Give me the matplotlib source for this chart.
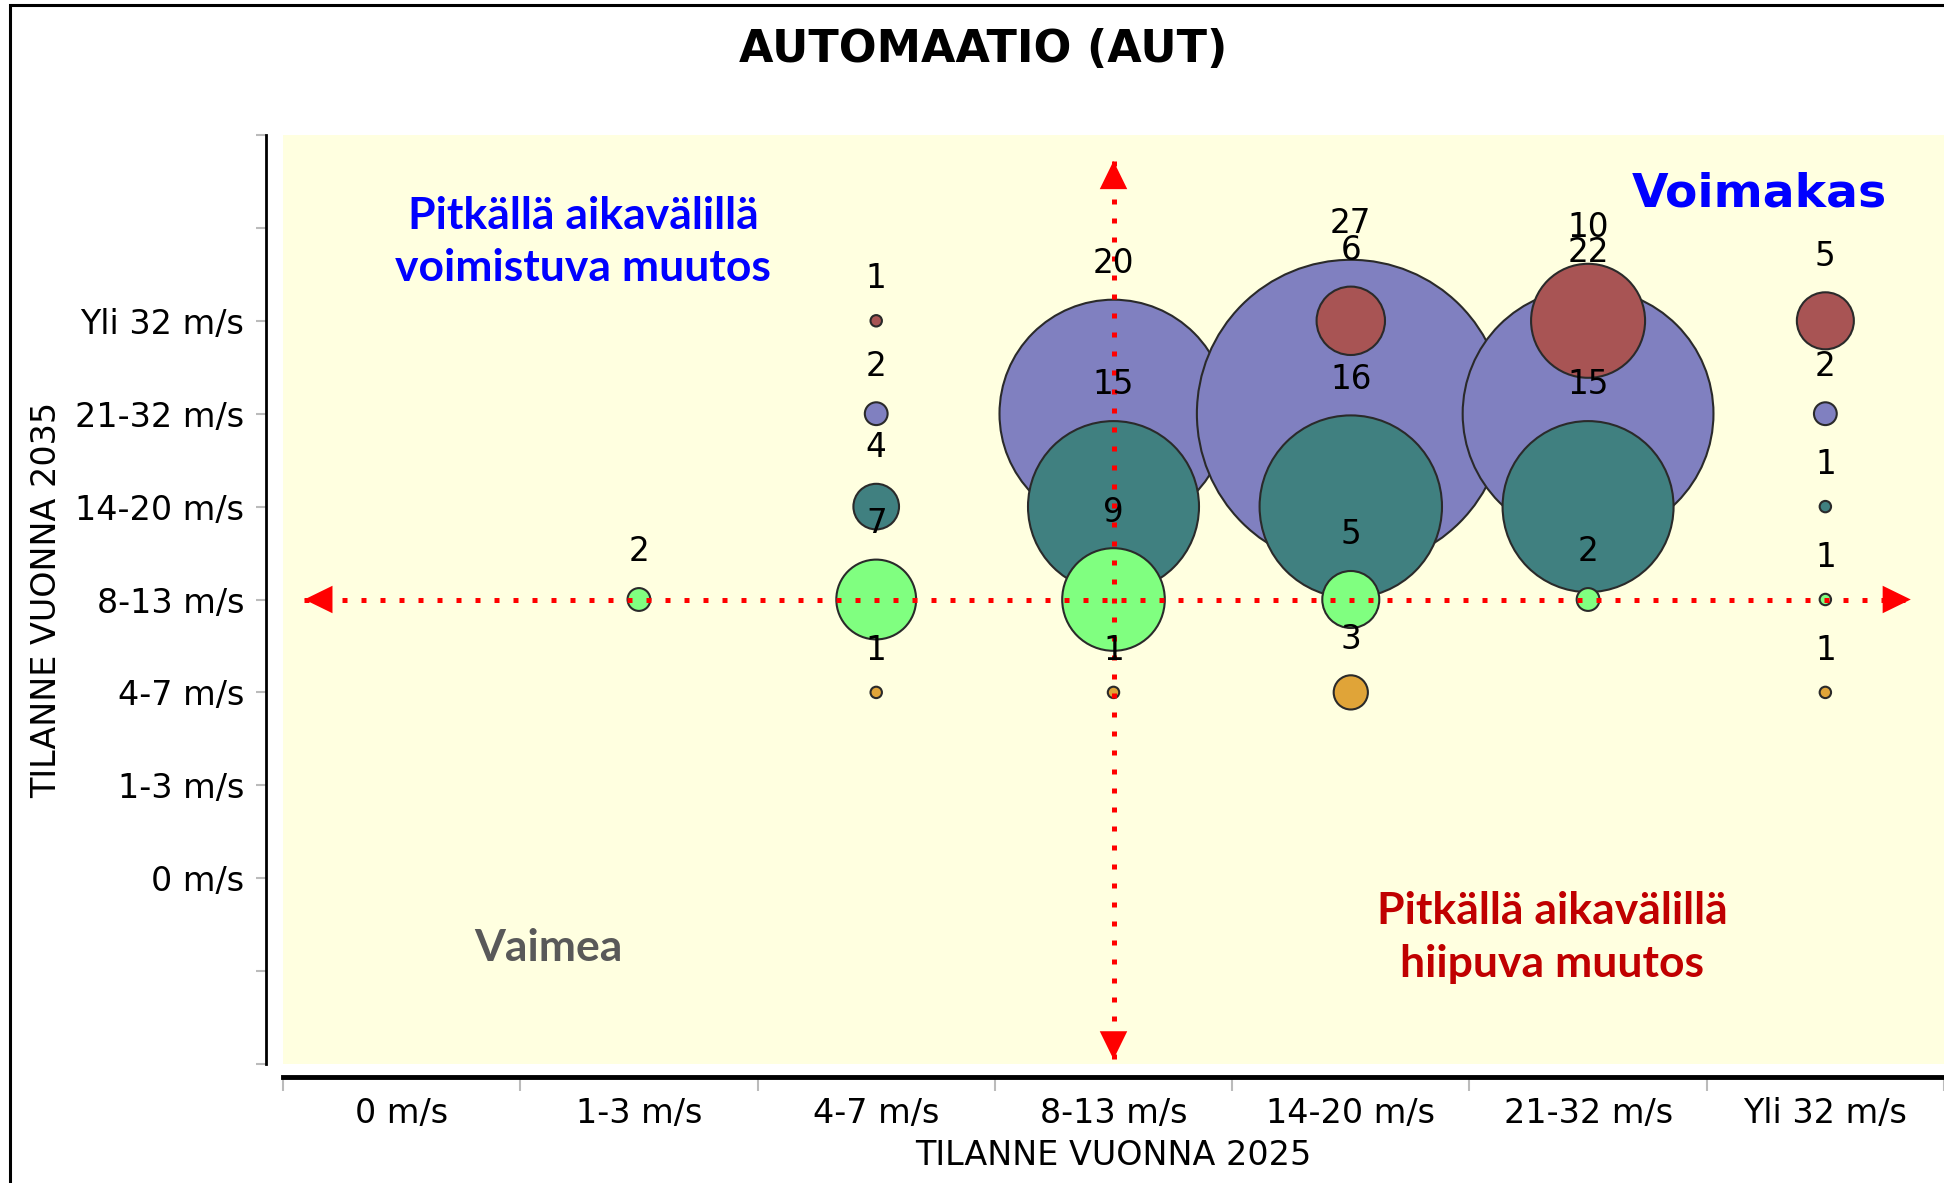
import numpy as np
import matplotlib.pyplot as plt
from matplotlib.patches import Rectangle

# categories (same for both axes)
categories = ["0 m/s", "1-3 m/s", "4-7 m/s", "8-13 m/s", "14-20 m/s", "21-32 m/s", "Yli 32 m/s"]

# counts per 2025 class (x) for each 2035 class (row)
row_yli32 = [0, 0, 1, 0, 6, 10, 5]
row_21_32 = [0, 0, 2, 20, 27, 22, 2]
row_14_20 = [0, 0, 4, 15, 16, 15, 1]
row_8_13 = [0, 2, 7, 9, 5, 2, 1]
row_4_7 = [0, 0, 1, 1, 3, 0, 1]

# draw order: (values, y-category index, colour)
series = [
    (row_21_32, 5, "#8080C0"),
    (row_yli32, 6, "#A85454"),
    (row_14_20, 4, "#408080"),
    (row_8_13, 3, "#80FF80"),
    (row_4_7, 2, "#E0A438"),
]

DPI = 100
W, H = 1944, 1183
fig = plt.figure(figsize=(W / DPI, H / DPI), dpi=DPI)
ax = fig.add_axes([283 / W, 1 - 1064 / H, (W - 283) / W, (1064 - 135) / H])
ax.set_facecolor("#FFFFE0")
ax.set_xlim(-0.5, 6.5)
ax.set_ylim(-2, 8)

px_per_unit = 5.7  # bubble radius in pixels per count
pt = 72 / DPI

labels = []
for vals, yi, col in series:
    vals = np.array(vals)
    xs = np.arange(len(vals))
    m = vals > 0
    r_pt = vals[m] * px_per_unit * pt
    ax.scatter(xs[m], np.full(m.sum(), yi), s=(2 * r_pt) ** 2, c=col,
               edgecolors="#2a2a2a", linewidths=1.5, zorder=2)
    for x, v, r in zip(xs[m], vals[m], r_pt):
        labels.append((x, yi, v, r))

# quadrant axes (dotted red with arrow heads)
dot = dict(color="red", lw=3.6, dashes=(1, 2.8), zorder=3)
ax.plot([-0.41, 6.36], [3, 3], **dot)
ax.plot([3, 3], [-1.95, 7.72], **dot)
head = dict(arrowstyle="-|>,head_length=0.45,head_width=0.22", color="red",
            lw=0, mutation_scale=45, shrinkA=0, shrinkB=0)
ax.annotate("", xy=(-0.41, 3), xytext=(0.2, 3), arrowprops=head, zorder=4)
ax.annotate("", xy=(6.36, 3), xytext=(5.8, 3), arrowprops=head, zorder=4)
ax.annotate("", xy=(3, 7.72), xytext=(3, 7.0), arrowprops=head, zorder=4)
ax.annotate("", xy=(3, -1.95), xytext=(3, -1.3), arrowprops=head, zorder=4)

for x, yi, v, r in labels:
    ax.annotate(str(v), (x, yi), xytext=(0, r + 26), textcoords="offset points",
                ha="center", va="center", fontsize=23.5, color="black", zorder=5)

# quadrant texts
ax.text(0.765, 6.85, "Pitkällä aikavälillä\nvoimistuva muutos", color="#0000FF",
        fontsize=32, fontweight="bold", family="Lato", ha="center", va="center",
        linespacing=1.38)
ax.text(5.72, 7.36, "Voimakas", color="#0000FF", fontsize=34, fontweight="heavy",
        family="DejaVu Sans", ha="center", va="center")
ax.text(4.85, -0.64, "Pitkällä aikavälillä\nhiipuva muutos", color="#C00000",
        fontsize=32, fontweight="bold", family="Lato", ha="center", va="center",
        linespacing=1.38)
ax.text(0.62, -0.75, "Vaimea", color="#595959", fontsize=32, fontweight="bold",
        family="Lato", ha="center", va="center")

# axes styling
for s in ["top", "right"]:
    ax.spines[s].set_visible(False)
ax.spines["left"].set_position(("outward", 12))
ax.spines["left"].set_linewidth(2)
ax.spines["bottom"].set_position(("outward", 9))
ax.spines["bottom"].set_linewidth(3.5)

ax.set_xticks(np.arange(-0.5, 7, 1))
ax.set_xticklabels([])
ax.set_xticks(np.arange(7), minor=True)
ax.set_xticklabels(categories, minor=True, fontsize=24)
ax.tick_params(axis="x", which="major", length=10, width=1.5, color="#BBBBBB")
ax.tick_params(axis="x", which="minor", length=0, pad=15)

yt = np.arange(-2, 9)
ax.set_yticks(yt)
ax.set_yticklabels([categories[i] if 0 <= i <= 6 else "" for i in yt], fontsize=24)
ax.tick_params(axis="y", length=7, width=1.5, color="#BBBBBB", pad=9)

ax.set_ylabel("TILANNE VUONNA 2035", fontsize=24)
ax.yaxis.set_label_coords(-0.1325, 0.5)
ax.set_xlabel("TILANNE VUONNA 2025", fontsize=24)
ax.xaxis.set_label_coords(0.5, -0.081)

fig.text(983 / W, 1 - 50 / H, "AUTOMAATIO (AUT)", fontsize=32, fontweight="bold",
         ha="center", va="center")

# outer frame
fig.add_artist(Rectangle((10 / W, -0.1), 1.2, 1.1 - 5 / H, transform=fig.transFigure,
                         fill=False, lw=2.2, ec="black"))

fig.savefig("out.png", dpi=DPI)
